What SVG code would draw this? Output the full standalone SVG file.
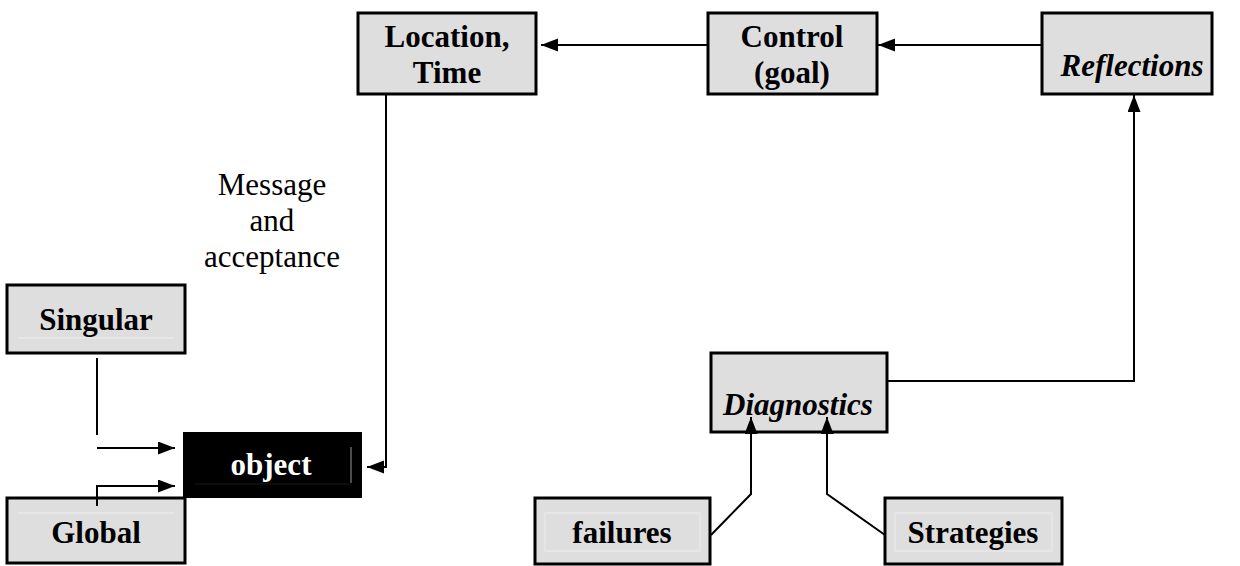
<svg xmlns="http://www.w3.org/2000/svg" width="1240" height="566" viewBox="0 0 1240 566">
<style>
  .box { fill: #dedede; stroke: #000; stroke-width: 3; }
  .inner { fill: none; stroke: #ececec; stroke-width: 1; }
  .lbl { font-family: "Liberation Serif", "Times New Roman", serif; font-weight: bold; font-size: 31px; fill: #000; text-anchor: middle; }
  .it { font-style: italic; }
  .plain { font-family: "Liberation Serif", "Times New Roman", serif; font-size: 31px; fill: #000; text-anchor: middle; }
  .conn { fill: none; stroke: #000; stroke-width: 2; }
</style>
<defs>
  <marker id="arr" markerUnits="userSpaceOnUse" markerWidth="18" markerHeight="14" refX="17" refY="6.5" orient="auto">
    <path d="M0,0 L17,6.5 L0,13 z" fill="#000"/>
  </marker>
</defs>
<rect width="1240" height="566" fill="#fff"/>

<text class="plain" x="272" y="195">Message</text>
<text class="plain" x="272" y="231">and</text>
<text class="plain" x="272" y="267">acceptance</text>

<g id="location">
  <rect class="box" x="358" y="13" width="178" height="81"/>
  <text class="lbl" x="447" y="47">Location,</text>
  <text class="lbl" x="447" y="83">Time</text>
</g>
<g id="control">
  <rect class="box" x="708" y="13" width="169" height="81"/>
  <text class="lbl" x="792" y="47">Control</text>
  <text class="lbl" x="792" y="83">(goal)</text>
</g>
<g id="reflections">
  <rect class="box" x="1042" y="13" width="170" height="81"/>
  <text class="lbl it" x="1132" y="76">Reflections</text>
</g>
<g id="singular">
  <rect class="box" x="7" y="285" width="178" height="68"/>
  <line class="inner" x1="18" y1="338" x2="174" y2="338"/>
  <text class="lbl" x="96" y="330">Singular</text>
</g>
<g id="global">
  <rect class="box" x="7" y="498" width="178" height="65"/>
  <line class="inner" x1="18" y1="513" x2="174" y2="513"/>
  <text class="lbl" x="96" y="543">Global</text>
</g>
<g id="object">
  <rect x="183" y="432" width="179" height="66" fill="#000"/>
  <line x1="351" y1="447" x2="351" y2="483" stroke="#9a9a9a" stroke-width="1"/>
  <line x1="195" y1="484" x2="350" y2="484" stroke="#1a1a1a" stroke-width="1"/>
  <text class="lbl" x="271" y="475" style="fill:#fff">object</text>
</g>
<g id="diagnostics">
  <rect class="box" x="711" y="353" width="176" height="79"/>
  <text class="lbl it" x="798" y="415">Diagnostics</text>
</g>
<g id="failures">
  <rect class="box" x="535" y="498" width="175" height="66"/>
  <rect class="inner" x="545" y="513" width="155" height="38"/>
  <text class="lbl" x="622" y="543">failures</text>
</g>
<g id="strategies">
  <rect class="box" x="885" y="498" width="177" height="66"/>
  <rect class="inner" x="895" y="513" width="157" height="38"/>
  <text class="lbl" x="973" y="543">Strategies</text>
</g>

<g id="connectors">
  <path class="conn" d="M708,45 H541" marker-end="url(#arr)"/>
  <path class="conn" d="M1042,45 H878" marker-end="url(#arr)"/>
  <path class="conn" d="M386,95 V467 H367" marker-end="url(#arr)"/>
  <path class="conn" d="M888,381 H1134 V95" marker-end="url(#arr)"/>
  <path class="conn" d="M711,535 L751,494 V417" marker-end="url(#arr)"/>
  <path class="conn" d="M885,535 L827,494 V417" marker-end="url(#arr)"/>
  <path class="conn" d="M97,358 V435"/>
  <path class="conn" d="M97,448 H175" marker-end="url(#arr)"/>
  <path class="conn" d="M97,506 V486 H175" marker-end="url(#arr)"/>
</g>
</svg>
